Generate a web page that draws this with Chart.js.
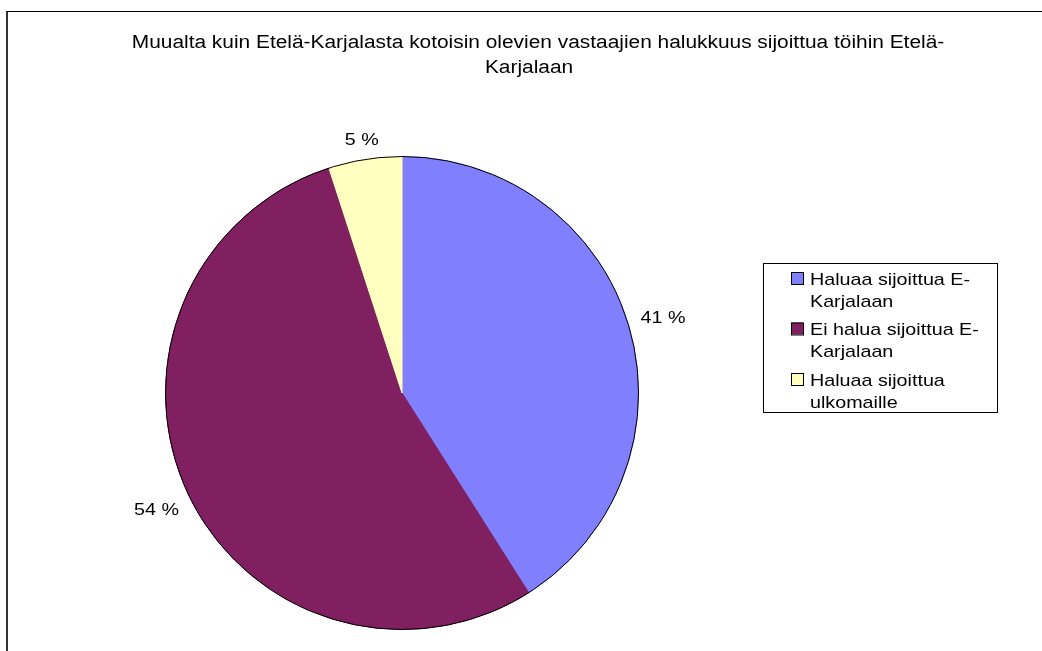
<!DOCTYPE html>
<html>
<head>
<meta charset="utf-8">
<script src="https://cdn.jsdelivr.net/npm/chart.js@4.4.1/dist/chart.umd.min.js"></script>
<style>
  body { margin: 0; background: #fff; }
</style>
</head>
<body>
<canvas id="pieChart" width="1042" height="651"></canvas>
<script>
// data
const titleText = 'Muualta kuin Etelä-Karjalasta kotoisin olevien vastaajien halukkuus sijoittua töihin Etelä-Karjalaan';
const categories = ['Haluaa sijoittua E-Karjalaan', 'Ei halua sijoittua E-Karjalaan', 'Haluaa sijoittua ulkomaille'];
const shares = [41, 54, 5];
const sliceColors = ['#8080FF', '#802060', '#FFFFC0'];

// text in the original is a wide Arial, so stretch Liberation Sans a bit
const FONT = '17px "Liberation Sans", Arial, sans-serif';
const TITLE_FONT = '18px "Liberation Sans", Arial, sans-serif';
const STRETCH = 1.16;

function textWidth(ctx, s) {
  return ctx.measureText(s).width * STRETCH;
}

function drawText(ctx, s, x, y, align) {
  const w = textWidth(ctx, s);
  const left = align === 'center' ? x - w / 2 : x;
  ctx.save();
  ctx.translate(left, y);
  ctx.scale(STRETCH, 1);
  ctx.textAlign = 'left';
  ctx.textBaseline = 'alphabetic';
  ctx.fillText(s, 0, 0);
  ctx.restore();
}

// break after spaces and hyphens, like the original
function wrapText(ctx, s, maxWidth) {
  const parts = s.split(/(?<=[ -])/);
  const lines = [];
  let line = '';
  parts.forEach(p => {
    if (line && textWidth(ctx, (line + p).trimEnd()) > maxWidth) {
      lines.push(line.trimEnd());
      line = p;
    } else {
      line += p;
    }
  });
  if (line) lines.push(line.trimEnd());
  return lines;
}

// white page and the clipped frame (only left and top edges visible)
const framePlugin = {
  id: 'frame',
  beforeDraw(chart) {
    const ctx = chart.ctx;
    ctx.save();
    ctx.fillStyle = '#fff';
    ctx.fillRect(0, 0, chart.width, chart.height);
    ctx.strokeStyle = '#333';
    ctx.lineWidth = 2;
    ctx.beginPath();
    ctx.moveTo(7, 11);
    ctx.lineTo(7, chart.height);
    ctx.stroke();
    ctx.strokeStyle = '#000';
    ctx.lineWidth = 1;
    ctx.beginPath();
    ctx.moveTo(6, 11.5);
    ctx.lineTo(chart.width, 11.5);
    ctx.stroke();
    ctx.restore();
  }
};

// outline on the circumference, percent labels, title and boxed legend
const decorPlugin = {
  id: 'decor',
  afterDatasetsDraw(chart) {
    const ctx = chart.ctx;
    const meta = chart.getDatasetMeta(0);
    const first = meta.data[0];
    ctx.save();

    ctx.strokeStyle = '#000';
    ctx.lineWidth = 1;
    ctx.beginPath();
    ctx.arc(first.x, first.y, first.outerRadius, 0, Math.PI * 2);
    ctx.stroke();

    ctx.font = FONT;
    ctx.fillStyle = '#000';

    // percent labels outside the slices
    meta.data.forEach((arc, i) => {
      const label = shares[i] + ' %';
      const mid = (arc.startAngle + arc.endAngle) / 2;
      const dx = Math.cos(mid), dy = Math.sin(mid);
      const hw = textWidth(ctx, label) / 2, hh = 6;
      const dist = arc.outerRadius + 12 + Math.abs(dx) * hw + Math.abs(dy) * hh;
      drawText(ctx, label, arc.x + dx * dist, arc.y + dy * dist + hh, 'center');
    });

    // title, second line sits a little left in the original
    ctx.font = TITLE_FONT;
    const titleX = [538, 529];
    wrapText(ctx, titleText, 860).forEach((line, j) => {
      drawText(ctx, line, titleX[j] || 538, 47.5 + j * 25.5, 'center');
    });
    ctx.font = FONT;

    // legend box
    ctx.strokeStyle = '#000';
    ctx.strokeRect(763.5, 263.5, 234, 149);
    chart.data.labels.forEach((label, i) => {
      const top = 272 + i * 50.5;
      ctx.fillStyle = chart.data.datasets[0].backgroundColor[i];
      ctx.fillRect(791, top, 12, 12);
      ctx.strokeRect(791.5, top + 0.5, 12, 12);
      ctx.fillStyle = '#000';
      wrapText(ctx, label, 175).forEach((line, j) => {
        drawText(ctx, line, 810, top + 12.5 + j * 22, 'left');
      });
    });

    ctx.restore();
  }
};

const pieChart = new Chart(document.getElementById('pieChart'), {
  type: 'pie',
  data: {
    labels: categories,
    datasets: [{
      data: shares,
      backgroundColor: sliceColors,
      borderColor: sliceColors,
      borderWidth: 1
    }]
  },
  options: {
    responsive: false,
    animation: false,
    events: [],
    layout: {
      padding: { left: 165, right: 403, top: 135, bottom: 0 }
    },
    plugins: {
      legend: { display: false },
      title: { display: false },
      tooltip: { enabled: false }
    }
  },
  plugins: [framePlugin, decorPlugin]
});
</script>
</body>
</html>
